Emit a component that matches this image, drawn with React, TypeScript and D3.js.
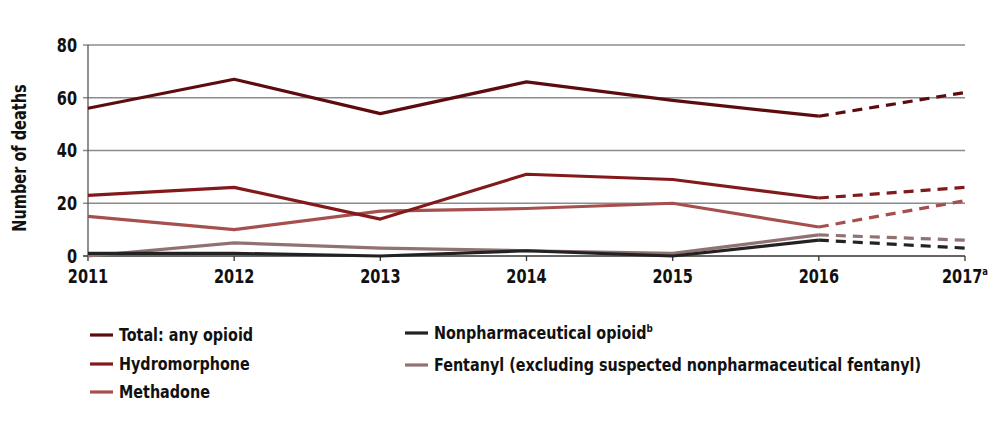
import React from "react";
import * as d3 from "d3";

const years = ["2011", "2012", "2013", "2014", "2015", "2016", "2017"];
const yTicks = [0, 20, 40, 60, 80];
const seriesNames = [
  "Total: any opioid",
  "Hydromorphone",
  "Methadone",
  "Nonpharmaceutical opioid",
  "Fentanyl (excluding suspected nonpharmaceutical fentanyl)",
];
const total = [56, 67, 54, 66, 59, 53, 62];
const hydromorphone = [23, 26, 14, 31, 29, 22, 26];
const methadone = [15, 10, 17, 18, 20, 11, 21];
const nonpharm = [1, 1, 0, 2, 0, 6, 3];
const fentanyl = [0, 5, 3, 2, 1, 8, 6];
const colors = ["#5c0c0e", "#82191b", "#a5504f", "#222222", "#917272"];

const FONT = "'DejaVu Sans Condensed', 'DejaVu Sans', sans-serif";
const SX = 0.85;
const SXL = 0.887;

export default function App() {
  const W = 1000, H = 433;
  const x = d3.scalePoint<string>().domain(years).range([88, 965]);
  const y = d3.scaleLinear().domain([0, 80]).range([256, 45]);
  const data = [total, hydromorphone, methadone, nonpharm, fentanyl];
  const line = d3
    .line<[string, number]>()
    .x((d) => x(d[0]) as number)
    .y((d) => y(d[1]));
  const drawOrder = [4, 3, 2, 1, 0];
  const legendPos = [
    { lx: 90, ly: 335 },
    { lx: 90, ly: 364 },
    { lx: 90, ly: 392 },
    { lx: 405, ly: 333 },
    { lx: 405, ly: 365 },
  ];
  return (
    <svg width={W} height={H} style={{ position: "absolute", left: 0, top: 0, fontFamily: FONT }}>
      <rect width={W} height={H} fill="#fff" />
      {yTicks.map((t) => (
        <g key={t}>
          {t > 0 && <line x1={83} x2={965} y1={y(t)} y2={y(t)} stroke="#8c8c8c" strokeWidth={1.3} />}
          <g transform={`translate(77,${y(t)}) scale(${SX},1)`}>
            <text dy="0.36em" textAnchor="end" fontSize={19} fontWeight="bold" fill="#111">
              {t}
            </text>
          </g>
        </g>
      ))}
      <line x1={88} x2={88} y1={45} y2={256} stroke="#555" strokeWidth={1.3} />
      <line x1={83} x2={965} y1={256} y2={256} stroke="#333" strokeWidth={1.5} />
      {years.map((yr) => (
        <g key={yr}>
          <line x1={x(yr)} x2={x(yr)} y1={256} y2={261} stroke="#333" strokeWidth={1.3} />
          <g transform={`translate(${x(yr)},283) scale(${SX},1)`}>
            <text textAnchor="middle" fontSize={19} fontWeight="bold" fill="#111">
              {yr}
              {yr === "2017" && <tspan fontSize={11} dy={-8}>a</tspan>}
            </text>
          </g>
        </g>
      ))}
      <g transform={`translate(26,158) rotate(-90) scale(${SX},1)`}>
        <text textAnchor="middle" fontSize={19} fontWeight="bold" fill="#111">
          Number of deaths
        </text>
      </g>
      {drawOrder.map((i) => {
        const pts: [string, number][] = years.map((yr, j) => [yr, data[i][j]]);
        const solid = pts.slice(0, 6);
        const dashed = pts.slice(5);
        return (
          <g key={i}>
            <path d={line(solid) || ""} fill="none" stroke={colors[i]} strokeWidth={3.2} strokeLinejoin="round" />
            <path d={line(dashed) || ""} fill="none" stroke={colors[i]} strokeWidth={3.2} strokeDasharray="10,7" />
          </g>
        );
      })}
      {seriesNames.map((name, i) => (
        <g key={name}>
          <line x1={legendPos[i].lx} x2={legendPos[i].lx + 23} y1={legendPos[i].ly} y2={legendPos[i].ly} stroke={colors[i]} strokeWidth={3.2} />
          <g transform={`translate(${legendPos[i].lx + 29},${legendPos[i].ly}) scale(${SXL},1)`}>
            <text dy="0.35em" fontSize={18} fontWeight="bold" fill="#111">
              {name}
              {i === 3 && <tspan fontSize={11} dy={-7}>b</tspan>}
            </text>
          </g>
        </g>
      ))}
    </svg>
  );
}
